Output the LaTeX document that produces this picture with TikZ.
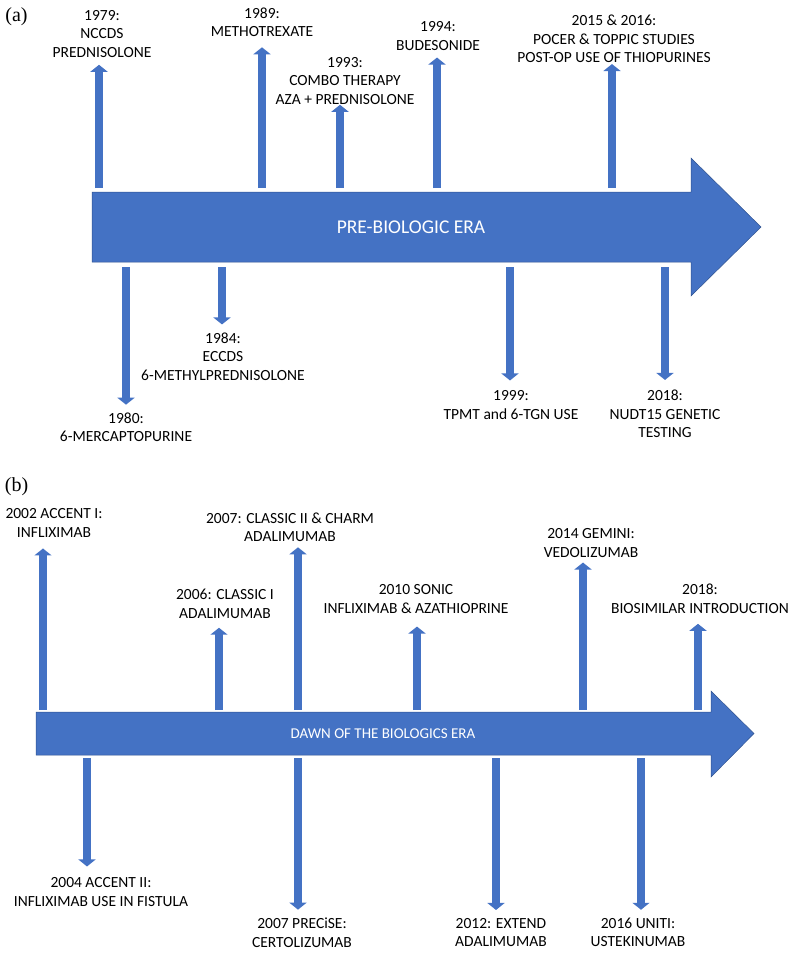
\documentclass[tikz,border=0pt]{standalone}
\usepackage{fontspec}
\setmainfont{Carlito}
\newfontfamily\panelfont{Liberation Serif}
\usetikzlibrary{arrows.meta}
\definecolor{msblue}{RGB}{68,114,196}
\definecolor{msedge}{RGB}{47,82,143}

\tikzset{
  era/.style={fill=msblue,draw=msedge,line width=0.5pt},
  evt/.style={draw=msblue,line width=7.5pt,-{Triangle[width=17pt,length=7pt]}},
  lbl/.style={align=center,inner sep=1pt,font=\fontsize{15.5}{18.5}\selectfont},
  eratxt/.style={text=white,inner sep=0pt},
  panel/.style={inner sep=0pt,font=\panelfont\fontsize{20}{24}\selectfont}
}

\begin{document}
\begin{tikzpicture}[x=1pt,y=-1pt]
\useasboundingbox (0,0) rectangle (793,953);
% (a) ere pre-biologique
\node[panel] (pa) at (16.5,17) {(a)};
\draw[era] (92,192) -- (691,192) -- (691,158) -- (761,227) -- (691,296) -- (691,262) -- (92,262) -- cycle;
\node[eratxt,font=\fontsize{19.5}{22}\selectfont] (eraA) at (411,227) {PRE-BIOLOGIC ERA};
\coordinate (aTop) at (0,188);
\coordinate (aBot) at (0,267);
\foreach \nm/\x/\y/\dx/\g/\txt in {
  a79/102/34/-3/6/{1979:\\NCCDS\\PREDNISOLONE},
  a89/262/22.5/0/9/{1989:\\METHOTREXATE},
  a93/345/81/-5/-1/{1993:\\COMBO THERAPY\\AZA + PREDNISOLONE},
  a94/438/36/-1/6/{1994:\\BUDESONIDE},
  a15/614/39/-2/0/{2015 \& 2016:\\POCER \& TOPPIC STUDIES\\POST-OP USE OF THIOPURINES}}{
  \node[lbl] (\nm) at (\x,\y) {\txt};
  \draw[evt,shorten >=\g pt] ([xshift=\dx pt]\nm.south |- aTop) -- ([xshift=\dx pt]\nm.south);
}
\foreach \nm/\x/\y/\dx/\g/\txt in {
  a80/126/427.5/0/7/{1980:\\6-MERCAPTOPURINE},
  a84/223/356.5/-1/7/{1984:\\ECCDS\\6-METHYLPREDNISOLONE},
  a99/511/405/-1/9/{1999:\\TPMT and 6-TGN USE},
  a18/665/414/0/9/{2018:\\NUDT15 GENETIC\\TESTING}}{
  \node[lbl] (\nm) at (\x,\y) {\txt};
  \draw[evt,shorten >=\g pt] ([xshift=\dx pt]\nm.north |- aBot) -- ([xshift=\dx pt]\nm.north);
}
% (b) arrivee des biologiques
\node[panel] (pb) at (16.5,487) {(b)};
\draw[era] (36,712) -- (711,712) -- (711,691) -- (754,733.5) -- (711,777) -- (711,755) -- (36,755) -- cycle;
\node[eratxt,font=\fontsize{15}{18}\selectfont] (eraB) at (383,733.5) {DAWN OF THE BIOLOGICS ERA};
\coordinate (bTop) at (0,710);
\coordinate (bBot) at (0,758);
\foreach \nm/\x/\y/\dx/\g/\txt in {
  b02/54/523/-11/10/{2002 ACCENT I:\\INFLIXIMAB},
  b06/225/604/-6/8/{2006: CLASSIC I\\ADALIMUMAB},
  b07/290/527.5/8/4/{2007: CLASSIC II \& CHARM\\ADALIMUMAB},
  b10/416/599/1/12/{2010 SONIC\\INFLIXIMAB \& AZATHIOPRINE},
  b14/591/543/-8/4/{2014 GEMINI:\\VEDOLIZUMAB},
  b18/700/599/-2/9/{2018:\\BIOSIMILAR INTRODUCTION}}{
  \node[lbl] (\nm) at (\x,\y) {\txt};
  \draw[evt,shorten >=\g pt] ([xshift=\dx pt]\nm.south |- bTop) -- ([xshift=\dx pt]\nm.south);
}
\foreach \nm/\x/\y/\dx/\g/\txt in {
  b04/101/892/-14/10/{2004 ACCENT II:\\INFLIXIMAB USE IN FISTULA},
  b07p/302/932.5/-4/7/{2007 PRECiSE:\\CERTOLIZUMAB},
  b12/501/932.5/-5/7/{2012: EXTEND\\ADALIMUMAB},
  b16/638/932.5/3/7/{2016 UNITI:\\USTEKINUMAB}}{
  \node[lbl] (\nm) at (\x,\y) {\txt};
  \draw[evt,shorten >=\g pt] ([xshift=\dx pt]\nm.north |- bBot) -- ([xshift=\dx pt]\nm.north);
}
\end{tikzpicture}
\end{document}
